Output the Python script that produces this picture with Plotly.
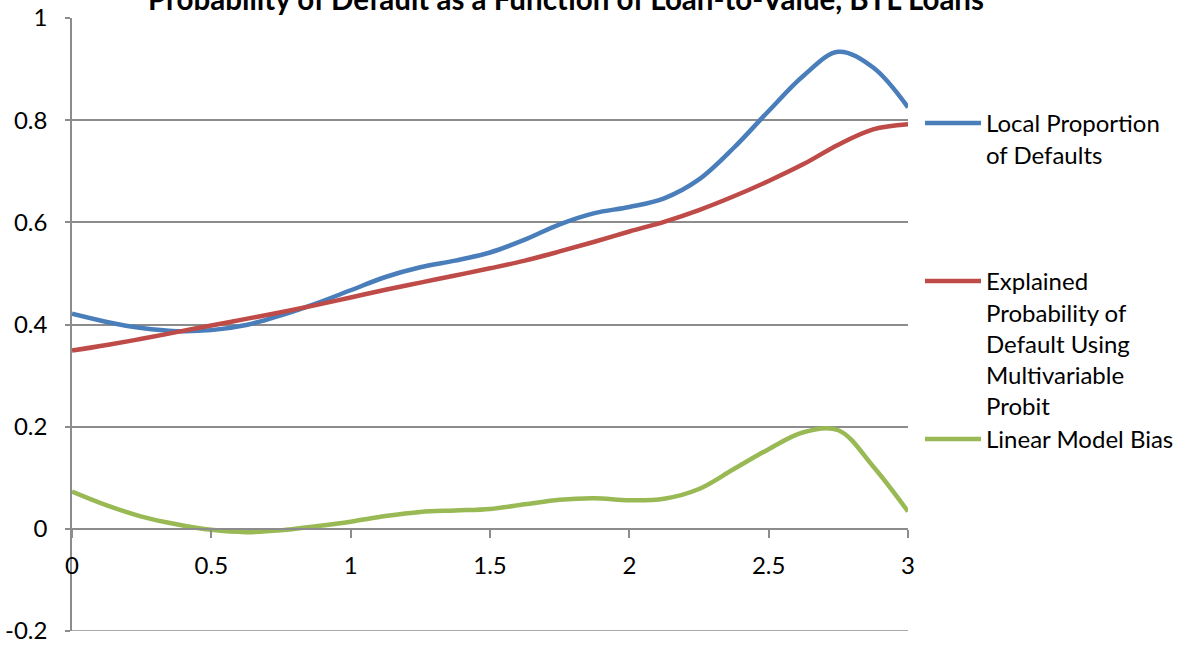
import plotly.graph_objects as go

# Loan-to-value grid (steps of 0.125) and series values
ltv = [0, 0.125, 0.25, 0.375, 0.5, 0.625, 0.75, 0.875, 1.0, 1.125, 1.25, 1.375, 1.5,
       1.625, 1.75, 1.875, 2.0, 2.125, 2.25, 2.375, 2.5, 2.625, 2.75, 2.875, 3.0]
local_defaults = [0.421, 0.405, 0.393, 0.387, 0.389, 0.399, 0.418, 0.441, 0.467, 0.493,
                  0.512, 0.525, 0.541, 0.566, 0.596, 0.618, 0.630, 0.647, 0.684, 0.746,
                  0.818, 0.887, 0.934, 0.903, 0.825]
probit_pd = [0.349, 0.360, 0.372, 0.385, 0.398, 0.411, 0.424, 0.438, 0.453, 0.468,
             0.482, 0.496, 0.510, 0.525, 0.543, 0.562, 0.582, 0.601, 0.624, 0.651,
             0.681, 0.714, 0.752, 0.782, 0.792]
linear_bias = [0.073, 0.046, 0.024, 0.009, -0.002, -0.0065, -0.003, 0.005, 0.014, 0.025,
               0.033, 0.036, 0.039, 0.048, 0.057, 0.060, 0.056, 0.059, 0.078, 0.117,
               0.156, 0.189, 0.193, 0.122, 0.034]

x_ticks = [0, 0.5, 1, 1.5, 2, 2.5, 3]
y_ticks = [-0.2, 0, 0.2, 0.4, 0.6, 0.8, 1]

series_names = [
    "Local Proportion<br>of Defaults",
    "Explained<br>Probability of<br>Default Using<br>Multivariable<br>Probit",
    "Linear Model Bias",
]
series_colors = ["#4A7EBB", "#BE4B48", "#98B954"]
series_values = [local_defaults, probit_pd, linear_bias]
legend_ids = ["legend", "legend2", "legend3"]
legend_tops = [101, 259, 417]  # container pixel tops of each legend block

FONT = "Lato"
GRID = "#8C8C8C"
W, H = 1192, 648

fig = go.Figure()
for name, color, vals, lg in zip(series_names, series_colors, series_values, legend_ids):
    fig.add_trace(go.Scatter(
        x=ltv, y=vals, name=name, mode="lines",
        line=dict(color=color, width=4.5, shape="spline", smoothing=1.0),
        legend=lg,
    ))

legend_common = dict(
    font=dict(family=FONT, size=24, color="#000000"),
    bgcolor="rgba(0,0,0,0)", borderwidth=0,
    xref="container", yref="container",
    xanchor="left", yanchor="top",
    valign="top", itemwidth=56,
)
layout_legends = {}
for lg, top in zip(legend_ids, legend_tops):
    layout_legends[lg] = dict(legend_common, x=920 / W, y=1 - top / H)

fig.update_layout(
    width=W, height=H,
    margin=dict(l=72, r=W - 908, t=18, b=H - 631, autoexpand=False),
    paper_bgcolor="white", plot_bgcolor="white",
    font=dict(family=FONT, size=24, color="#000000"),
    showlegend=True,
    title=dict(
        text="<b>Probability of Default as a Function of Loan-to-Value, BTL Loans</b>",
        xref="container", yref="container", x=566 / W, y=1.0,
        xanchor="center", yanchor="middle",
        font=dict(family=FONT, size=29.5, color="#000000"),
    ),
    xaxis=dict(
        range=[0, 3], tickvals=x_ticks, ticktext=[f"{v:g}" for v in x_ticks],
        anchor="free", position=1 / 6, automargin=False,
        showgrid=False, zeroline=False,
        showline=True, linecolor=GRID, linewidth=1.5,
        ticks="outside", ticklen=8, tickwidth=1.5, tickcolor=GRID,
        ticklabelstandoff=8,
        tickfont=dict(family=FONT, size=24),
    ),
    yaxis=dict(
        range=[-0.2, 1], tickvals=y_ticks, ticktext=[f"{v:g}" for v in y_ticks],
        automargin=False,
        showgrid=True, gridcolor=GRID, gridwidth=1.5,
        zeroline=False,
        showline=True, linecolor=GRID, linewidth=1.5,
        ticks="outside", ticklen=5, tickwidth=1.5, tickcolor=GRID,
        ticklabelstandoff=13,
        tickfont=dict(family=FONT, size=24),
    ),
    # gridline at the lowest y tick, which plotly omits at the axis edge
    shapes=[dict(
        type="line", xref="paper", x0=0, x1=1, yref="y",
        y0=y_ticks[0], y1=y_ticks[0],
        line=dict(color=GRID, width=1.5), layer="below",
    )],
    **layout_legends,
)

fig.write_html("out.html")
